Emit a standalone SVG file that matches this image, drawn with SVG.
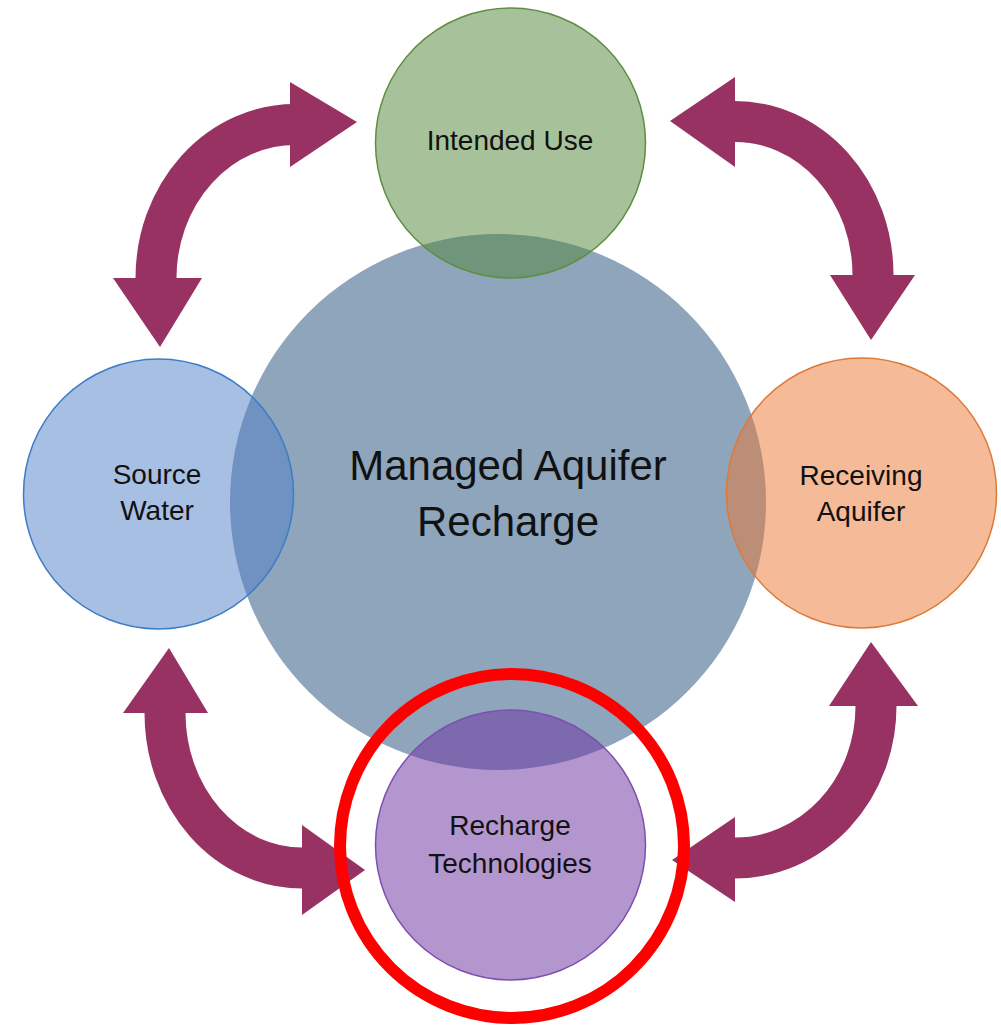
<svg xmlns="http://www.w3.org/2000/svg" width="1001" height="1027" viewBox="0 0 1001 1027">
<style>
.arrow{fill:none;stroke:#983263;stroke-width:41}
.head{fill:#983263}
.sat{font-family:"Liberation Sans",Arial,sans-serif;font-size:28px;fill:#111;text-anchor:middle}
.main{font-family:"Liberation Sans",Arial,sans-serif;font-size:42px;fill:#111;text-anchor:middle}
</style>
<rect width="1001" height="1027" fill="#ffffff"/>
<g id="connectors">
<path class="arrow" d="M156,278 A139,153.5 0 0 1 295,124.5"/>
<polygon class="head" points="290,82 357,122 290,167"/>
<polygon class="head" points="113,278 202,278 160,347"/>
<path class="arrow" d="M735,121.5 A138,153.5 0 0 1 873,275"/>
<polygon class="head" points="735,77 670,121 735,167"/>
<polygon class="head" points="830,275 915,275 871,340"/>
<path class="arrow" d="M165,713 A137,155 0 0 0 302,868"/>
<polygon class="head" points="123,713 208,713 169,648"/>
<polygon class="head" points="302,825 365,870 302,915"/>
<path class="arrow" d="M876,706 A141,152 0 0 1 735,858"/>
<polygon class="head" points="829,706 918,706 871,642"/>
<polygon class="head" points="735,817 672,860 735,902"/>
</g>
<g id="node-mar">
<circle cx="498" cy="502" r="268" fill="#8EA5BC"/>
<text class="main" x="508" y="480">Managed Aquifer</text>
<text class="main" x="508" y="536">Recharge</text>
</g>
<g id="node-intended-use">
<circle cx="510.5" cy="143" r="135" fill="rgb(80,133,55)" fill-opacity="0.5" stroke="#5E8E3E" stroke-width="1.5"/>
<text class="sat" x="510" y="150">Intended Use</text>
</g>
<g id="node-source-water">
<circle cx="158.5" cy="494" r="135" fill="rgb(79,127,200)" fill-opacity="0.5" stroke="#3D7CC8" stroke-width="1.5"/>
<text class="sat" x="157" y="484">Source</text>
<text class="sat" x="157" y="520">Water</text>
</g>
<g id="node-receiving-aquifer">
<circle cx="861.5" cy="493" r="135" fill="rgb(235,120,50)" fill-opacity="0.5" stroke="#DD7A38" stroke-width="1.5"/>
<text class="sat" x="861" y="485">Receiving</text>
<text class="sat" x="861" y="521">Aquifer</text>
</g>
<g id="node-recharge-technologies">
<circle cx="510.5" cy="845" r="135" fill="rgb(105,45,160)" fill-opacity="0.5" stroke="#7D4FB0" stroke-width="1.5"/>
<text class="sat" x="510" y="835">Recharge</text>
<text class="sat" x="510" y="873">Technologies</text>
</g>
<g id="highlight">
<circle cx="512" cy="846" r="172" fill="none" stroke="#FF0000" stroke-width="12"/>
</g>
</svg>
